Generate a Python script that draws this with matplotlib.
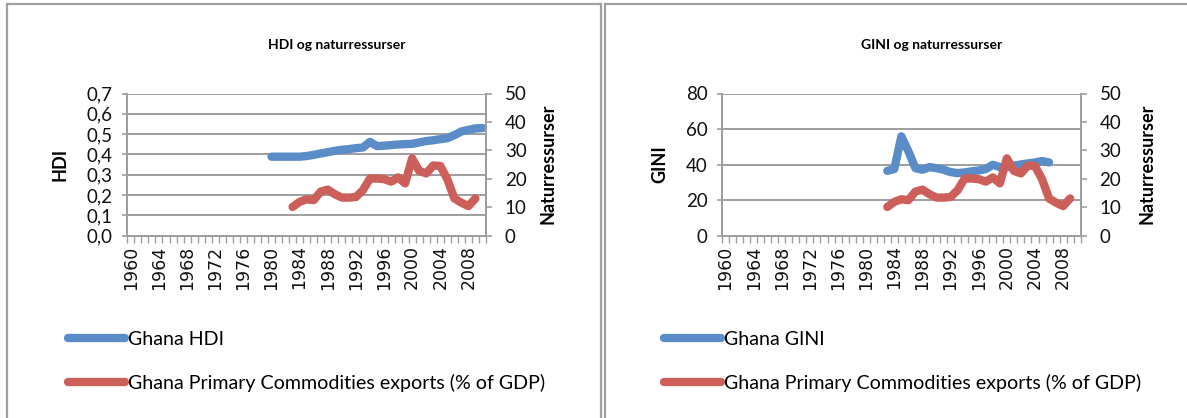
import matplotlib
matplotlib.use("Agg")
import matplotlib.pyplot as plt
from matplotlib.patches import Rectangle
from matplotlib.ticker import FixedLocator, FuncFormatter

# ---- data ---------------------------------------------------------------
years = list(range(1960, 2011))
year_labels = [str(y) for y in range(1960, 2011, 4)]

hdi_years = list(range(1980, 2011))
hdi = [0.389, 0.389, 0.389, 0.389, 0.389, 0.392, 0.398, 0.405, 0.411, 0.418,
       0.423, 0.426, 0.431, 0.434, 0.462, 0.441, 0.443, 0.446, 0.449, 0.451,
       0.452, 0.459, 0.466, 0.470, 0.475, 0.480, 0.495, 0.513, 0.521, 0.528,
       0.530]

gini_years = list(range(1983, 2007))
gini = [36.5, 37.5, 55.9, 47.5, 38.0, 37.1, 38.6, 38.0, 37.1, 35.8, 35.2, 35.6,
        36.2, 36.7, 37.5, 39.9, 38.6, 38.6, 39.4, 40.1, 40.7, 41.2, 42.0, 41.2]

commod_years = list(range(1983, 2010))
commod = [10.1, 11.9, 12.8, 12.5, 15.5, 16.2, 14.6, 13.4, 13.4, 13.6, 16.0,
          20.1, 20.1, 19.9, 19.0, 20.5, 18.4, 27.2, 22.8, 21.9, 24.7, 24.5,
          19.9, 13.1, 11.6, 10.4, 13.1]

# ---- style ----------------------------------------------------------------
W, H = 1187, 418
BLUE = "#5A8CC8"
RED = "#CD5F5A"
GRID = "#9E9E9E"
FRAME = "#A0A0A0"
UI = "Lato"

fig = plt.figure(figsize=(W / 100, H / 100), dpi=100)


def px_rect(x0, y0, x1, y1):
    """figure-fraction rect from pixel box (top-left origin)"""
    return [x0 / W, 1 - y1 / H, (x1 - x0) / W, (y1 - y0) / H]


# panel frames
for x0, x1 in [(7, 601), (605, 1200)]:
    fig.patches.append(Rectangle((x0 / W, -0.05), (x1 - x0) / W, 1.05 - 4 / H,
                                 transform=fig.transFigure, fill=False,
                                 edgecolor=FRAME, linewidth=1.6, zorder=0))


def make_panel(x_left, title, title_x, ylab, ylab_x, nat_x, left_vals, left_years,
               left_ylim, left_ticks, left_fmt, left_name, leg_x):
    ax = fig.add_axes(px_rect(x_left, 93.5, x_left + 358.7, 235.7))
    ax2 = ax.twinx()

    xs_l = [y - years[0] for y in left_years]
    xs_r = [y - years[0] for y in commod_years]
    l1, = ax.plot(xs_l, left_vals, color=BLUE, lw=6.0, solid_capstyle="round",
                  solid_joinstyle="round", label=left_name, zorder=3)
    l2, = ax2.plot(xs_r, commod, color=RED, lw=6.0, solid_capstyle="round",
                   solid_joinstyle="round",
                   label="Ghana Primary Commodities exports (% of GDP)", zorder=3)

    ax.set_xlim(-0.5, len(years) - 0.5)
    ax.set_ylim(*left_ylim)
    ax2.set_ylim(0, 50)

    # y axes
    ax.yaxis.set_major_locator(FixedLocator(left_ticks))
    ax.yaxis.set_major_formatter(FuncFormatter(left_fmt))
    ax2.yaxis.set_major_locator(FixedLocator([0, 10, 20, 30, 40, 50]))
    ax.grid(axis="y", color=GRID, lw=1.4)
    ax.set_axisbelow(True)

    for a in (ax, ax2):
        for s in a.spines.values():
            s.set_color(GRID)
            s.set_linewidth(1.4)
        a.spines["top"].set_visible(False)
    ax.tick_params(axis="y", length=3.5, width=1.2, color=GRID, pad=7,
                   labelsize=13.5, labelcolor="#111111")
    ax2.tick_params(axis="y", length=4.5, width=1.2, color=GRID, pad=9,
                    labelsize=13.5, labelcolor="#111111")
    for lab in ax.get_yticklabels() + ax2.get_yticklabels():
        lab.set_fontfamily(UI)

    # category axis: ticks between years, labels every 4th year
    label_pos = [years.index(int(t)) for t in year_labels]
    ax.xaxis.set_major_locator(FixedLocator(label_pos))
    ax.set_xticklabels(year_labels, rotation=90, fontsize=12.5,
                       fontfamily="DejaVu Sans", color="#111111")
    ax.xaxis.set_minor_locator(FixedLocator([i - 0.5 for i in range(len(years) + 1)]))
    ax.tick_params(axis="x", which="major", length=0, pad=7)
    ax.tick_params(axis="x", which="minor", length=5, width=1.0, color=GRID)

    # texts
    fig.text(title_x / W, 1 - 45 / H, title, ha="center", va="center",
             fontsize=10, fontweight="bold", fontfamily=UI)
    fig.text(ylab_x / W, 1 - 164 / H, ylab, ha="center", va="center",
             rotation=90, fontsize=13, fontweight="bold", fontfamily=UI)
    fig.text(nat_x / W, 1 - 164 / H, "Naturressurser", ha="center", va="center",
             rotation=90, fontsize=13, fontweight="bold", fontfamily=UI)

    fig.legend(handles=[l1, l2], loc="upper left",
               bbox_to_anchor=(leg_x / W, 1 - 331 / H), frameon=False,
               prop={"family": UI, "size": 14.1}, handlelength=2.9,
               handletextpad=0.15, labelspacing=1.32, borderpad=0,
               borderaxespad=0)
    return ax, ax2


make_panel(127.3, "HDI og naturressurser", 337, "HDI", 60, 548,
           hdi, hdi_years, (0, 0.7), [i / 10 for i in range(8)],
           lambda v, p: f"{v:.1f}".replace(".", ","), "Ghana HDI", 68)

make_panel(722.0, "GINI og naturressurser", 932, "GINI", 660, 1147,
           gini, gini_years, (0, 80), [0, 20, 40, 60, 80],
           lambda v, p: f"{v:.0f}", "Ghana GINI", 664)

fig.savefig("out.png", dpi=100)
